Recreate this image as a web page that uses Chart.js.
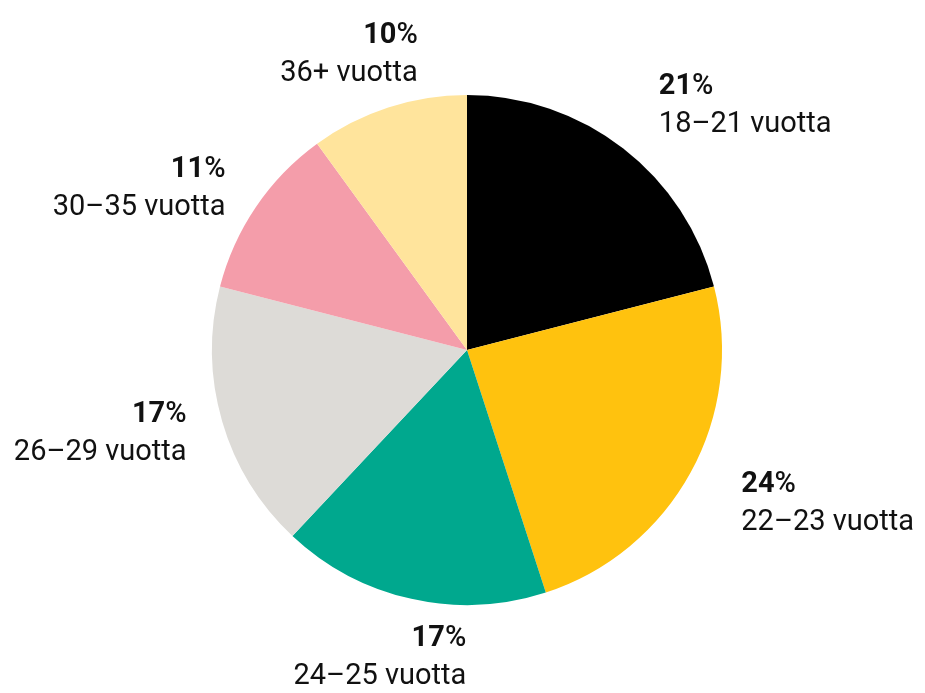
<!DOCTYPE html>
<html>
<head>
<meta charset="utf-8">
<script src="https://cdn.jsdelivr.net/npm/chart.js@4/dist/chart.umd.min.js"></script>
<style>
    html, body { margin: 0; padding: 0; background: #fff; }
    #wrap { width: 925px; height: 693px; position: relative; }
</style>
</head>
<body>
<div id="wrap"><canvas id="pieChart"></canvas></div>
<script>
// Chart data
const ageGroups = ['18–21 vuotta', '22–23 vuotta', '24–25 vuotta', '26–29 vuotta', '30–35 vuotta', '36+ vuotta'];
const shares = [21, 24, 17, 17, 11, 10];
const sliceColors = ['#000000', '#ffc20e', '#00a88e', '#dddbd7', '#f49daa', '#ffe49c'];

const FONT = 'Roboto, "Noto Sans", sans-serif';
const FONT_SIZE = 29;

// Draw the outside labels: bold percentage on the first line, group name below
const outsideLabels = {
    id: 'outsideLabels',
    afterDatasetsDraw(chart) {
        const ctx = chart.ctx;
        const meta = chart.getDatasetMeta(0);
        ctx.save();
        ctx.fillStyle = '#111111';
        ctx.textBaseline = 'alphabetic';
        meta.data.forEach((arc, i) => {
            const mid = (arc.startAngle + arc.endAngle) / 2;
            const cx = Math.cos(mid);
            const cy = Math.sin(mid);
            // labels on the left side sit a little closer to the pie
            const r = arc.outerRadius + (cx < -0.5 ? 37 : 58);
            const ax = arc.x + r * cx;
            const ay = arc.y + r * cy;

            const num = String(shares[i]);
            ctx.font = `bold ${FONT_SIZE}px ${FONT}`;
            const numW = ctx.measureText(num).width;
            ctx.font = `500 ${FONT_SIZE}px ${FONT}`;
            const pctW = ctx.measureText('%').width;
            ctx.font = `${FONT_SIZE}px ${FONT}`;
            const nameW = ctx.measureText(ageGroups[i]).width;
            const w = Math.max(numW + pctW, nameW);

            let f;
            if (Math.abs(cx) > 0.5) {
                f = cx > 0 ? 0 : 1;
            } else {
                f = (1 - cx) / 2;
            }
            const left = ax - f * w;
            const rightAlign = cx < 0;
            const base1 = ay - 9;
            const base2 = ay + 29;

            // first line
            const x1 = rightAlign ? left + w - (numW + pctW) : left;
            ctx.textAlign = 'left';
            ctx.font = `bold ${FONT_SIZE}px ${FONT}`;
            ctx.fillText(num, x1, base1);
            ctx.font = `500 ${FONT_SIZE}px ${FONT}`;
            ctx.fillText('%', x1 + numW, base1);

            // second line
            const x2 = rightAlign ? left + w - nameW : left;
            ctx.font = `${FONT_SIZE}px ${FONT}`;
            ctx.fillText(ageGroups[i], x2, base2);
        });
        ctx.restore();
    }
};

document.addEventListener('DOMContentLoaded', () => {
    const ctx = document.getElementById('pieChart').getContext('2d');
    new Chart(ctx, {
        type: 'pie',
        data: {
            labels: ageGroups,
            datasets: [{
                data: shares,
                backgroundColor: sliceColors,
                borderWidth: 0
            }]
        },
        options: {
            responsive: true,
            maintainAspectRatio: false,
            animation: false,
            layout: {
                padding: { top: 95, bottom: 88, left: 212, right: 203 }
            },
            plugins: {
                legend: { display: false },
                tooltip: { enabled: false }
            }
        },
        plugins: [outsideLabels]
    });
});
</script>
</body>
</html>
